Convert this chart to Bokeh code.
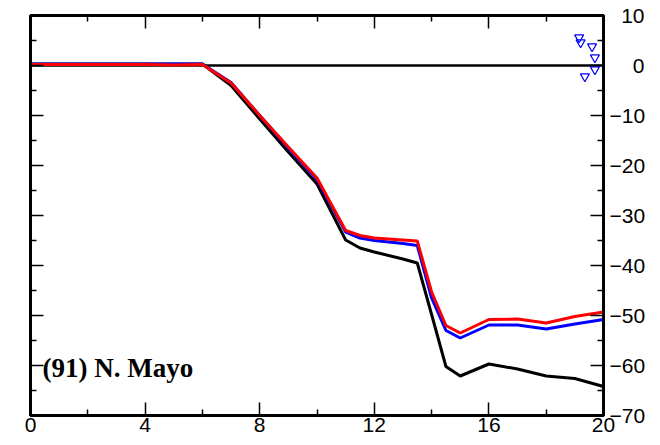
from bokeh.plotting import figure
from bokeh.models import LinearAxis, FixedTicker, Range1d, Label, Span, CustomLabelingPolicy
from bokeh.embed import file_html
from bokeh.resources import INLINE

# ---- data ----
x = [0, 1, 2, 3, 4, 5, 6, 7, 8, 9, 10, 11, 11.5, 12, 13, 13.5, 14, 14.5, 15, 16, 17, 18, 19, 20]
black = [0.3, 0.3, 0.3, 0.3, 0.3, 0.3, 0.3, -4.0, -10.7, -17.3, -23.7, -34.9, -36.5, -37.3, -38.7, -39.5,
         -49.8, -60.2, -62.1, -59.7, -60.7, -62.1, -62.6, -64.2]
blue = [0.3, 0.3, 0.3, 0.3, 0.3, 0.3, 0.3, -3.4, -10.0, -16.5, -22.8, -33.3, -34.5, -35.0, -35.6, -36.0,
        -46.5, -53.0, -54.5, -51.9, -51.9, -52.7, -51.7, -50.8]
red = [0.2, 0.2, 0.2, 0.2, 0.2, 0.1, 0.2, -3.5, -10.0, -16.3, -22.5, -33.0, -34.0, -34.5, -34.9, -35.1,
       -45.3, -52.0, -53.5, -50.8, -50.7, -51.5, -50.2, -49.3]
tri_x = [19.15, 19.2, 19.6, 19.7, 19.7, 19.35]
tri_y = [5.6, 4.6, 3.8, 1.6, -0.8, -2.2]

x_ticks = [0, 4, 8, 12, 16, 20]
x_minor = [2, 6, 10, 14, 18]
y_ticks = [-70, -60, -50, -40, -30, -20, -10, 0, 10]
y_minor = [-65, -55, -45, -35, -25, -15, -5, 5]
y_labels = ["\u221270", "\u221260", "\u221250", "\u221240", "\u221230", "\u221220", "\u221210",
            "\u2007\u20070", "\u200710"]
station = "(91) N. Mayo"

p = figure(width=658, height=443, output_backend="svg", toolbar_location=None,
           x_range=Range1d(0, 20), y_range=Range1d(-70, 10),
           x_axis_location=None, y_axis_location=None,
           min_border_left=30, min_border_top=15, min_border_right=55, min_border_bottom=28)
p.outline_line_color = "black"
p.outline_line_width = 3
p.background_fill_color = "white"
p.border_fill_color = "white"
p.grid.grid_line_color = None

hide_labels = CustomLabelingPolicy(code="""
const n = indices.size;
for (let i = 0; i < n; i++) { indices.unset(i) }
return indices
""")

def style(ax, labels, ticks):
    ax.axis_line_color = "black"
    ax.axis_line_width = 3
    ax.major_tick_line_color = "black"
    ax.minor_tick_line_color = "black"
    ax.major_tick_line_width = 1.5
    ax.minor_tick_line_width = 1.5
    ax.major_tick_in = 13
    ax.major_tick_out = 0
    ax.minor_tick_in = 6
    ax.minor_tick_out = 0
    ax.major_label_text_font = "Liberation Sans"
    ax.major_label_text_font_size = "21px"
    ax.major_label_text_color = "black"
    if not labels:
        ax.major_label_overrides = {t: "" for t in ticks}
        ax.major_label_policy = hide_labels
        ax.major_label_standoff = 0

xt = FixedTicker(ticks=x_ticks, minor_ticks=x_minor)
yt = FixedTicker(ticks=y_ticks, minor_ticks=y_minor)

bottom = LinearAxis(ticker=xt)
style(bottom, True, x_ticks)
bottom.major_label_standoff = 2
bottom.major_label_overrides = {t: str(t) for t in x_ticks}
p.add_layout(bottom, "below")

top = LinearAxis(ticker=xt)
style(top, False, x_ticks)
p.add_layout(top, "above")

left = LinearAxis(ticker=yt)
style(left, False, y_ticks)
p.add_layout(left, "left")

right = LinearAxis(ticker=yt)
style(right, True, y_ticks)
right.major_label_standoff = 6
right.major_label_overrides = {t: l for t, l in zip(y_ticks, y_labels)}
p.add_layout(right, "right")

p.add_layout(Span(location=0, dimension="width", line_color="black", line_width=2.5, level="underlay"))

p.line(x, black, line_color="black", line_width=3)
p.line(x, blue, line_color="#0000ff", line_width=3)
p.line(x, red, line_color="#ff0000", line_width=3)

p.scatter(tri_x, tri_y, marker="inverted_triangle", size=9, fill_color=None,
          line_color="#0000ff", line_width=1.2)

p.add_layout(Label(x=0.42, y=-60.4, text=station, text_font="Liberation Serif",
                   text_font_style="bold", text_font_size="27px", text_color="black",
                   text_baseline="alphabetic"))

open("out.html", "w").write(file_html(p, INLINE))
